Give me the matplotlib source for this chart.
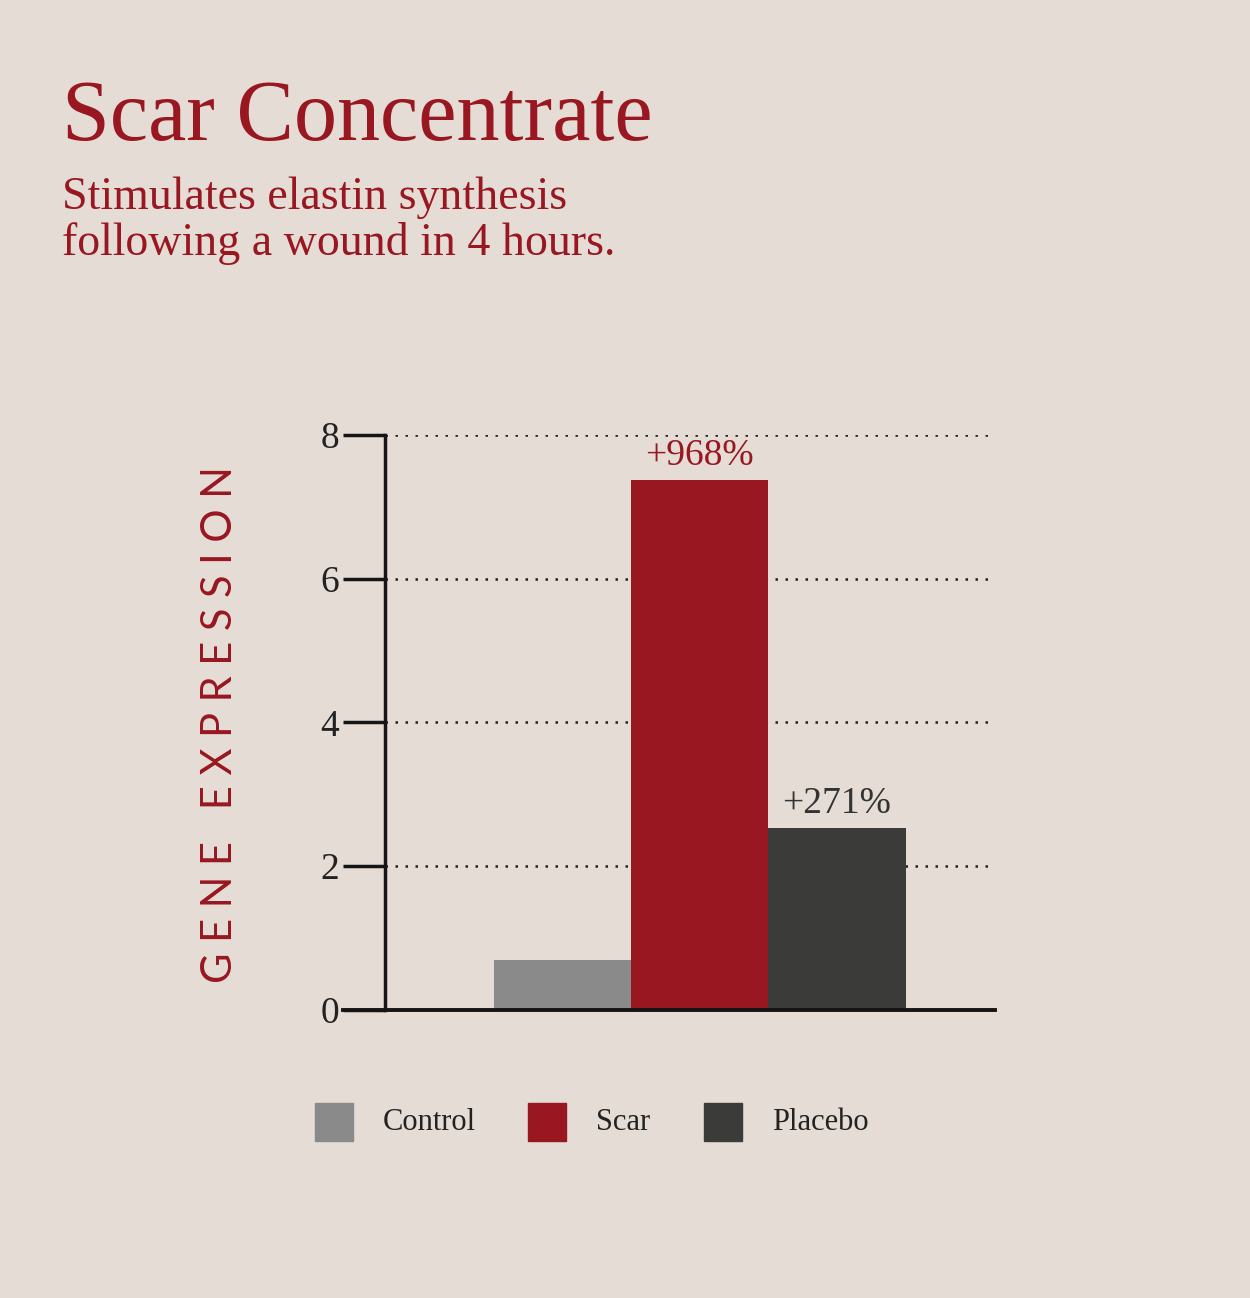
import matplotlib
matplotlib.use("Agg")
import matplotlib.pyplot as plt
from matplotlib.patches import Rectangle
from matplotlib.lines import Line2D

categories = ["Control", "Scar", "Placebo"]
values = [0.70, 7.37, 2.53]
labels = [None, "+968%", "+271%"]
yticks = [0, 2, 4, 6, 8]

BG = "#e5ddd5"
RED = "#981721"
colors = ["#8a8a8a", RED, "#3b3b39"]
label_colors = [None, RED, "#333333"]
SERIF = ["Liberation Serif", "DejaVu Serif"]

fig = plt.figure(figsize=(12.5, 12.98), dpi=100, facecolor=BG)
ax = fig.add_axes([0.308, 0.2219, 0.488, 0.4431], facecolor="none")

x = list(range(len(categories)))
ax.set_xlim(-1.29, 3.15)
ax.set_ylim(0, 8)

for y in yticks[1:]:
    ax.axhline(y, color="#222222", lw=1.8, ls=(0, (1, 3.0)), zorder=1)
ax.bar(x, values, width=1.0, color=colors, zorder=2)
for xi, v, lab, c in zip(x, values, labels, label_colors):
    if lab:
        ax.text(xi, v + 0.1, lab, ha="center", va="bottom", color=c,
                fontsize=27, family=SERIF)

for s in ["top", "right", "bottom"]:
    ax.spines[s].set_visible(False)
ax.spines["left"].set_linewidth(2.5)
ax.spines["left"].set_color("#151515")
ax.add_line(Line2D([-42 / 610, 1], [0, 0], transform=ax.transAxes, color="#151515",
                   lw=2.8, clip_on=False, zorder=3))
ax.set_xticks([])
ax.set_yticks(yticks)
ax.set_yticklabels([str(t) for t in yticks], family=SERIF, fontsize=27, color="#222222")
ax.tick_params(axis="y", length=30, width=2.5, color="#151515", pad=3)
for t in ax.get_yticklabels():
    t.set_verticalalignment("center_baseline")

fig.text(220 / 1250, 1 - 725 / 1298, "G E N E   E X P R E S S I O N", rotation=90,
         ha="center", va="center", color=RED, fontsize=30, family=["Lato", "DejaVu Sans"])

fig.text(62 / 1250, 1 - 140 / 1298, "Scar Concentrate", color=RED, fontsize=62,
         family=SERIF, ha="left", va="baseline")
fig.text(62 / 1250, 1 - 255 / 1298, "Stimulates elastin synthesis\nfollowing a wound in 4 hours.",
         color=RED, fontsize=33, family=SERIF, ha="left", va="baseline", linespacing=1.1)

legend_x = [315, 528, 704]
for lx, name, c in zip(legend_x, categories, colors):
    fig.add_artist(Rectangle((lx / 1250, 1 - 1141 / 1298), 38 / 1250, 38 / 1298,
                             transform=fig.transFigure, color=c))
    fig.text((lx + 68) / 1250, 1 - 1122 / 1298, name, color="#222222", fontsize=22,
             family=SERIF, ha="left", va="center")

fig.savefig("out.png", dpi=100, facecolor=BG)
